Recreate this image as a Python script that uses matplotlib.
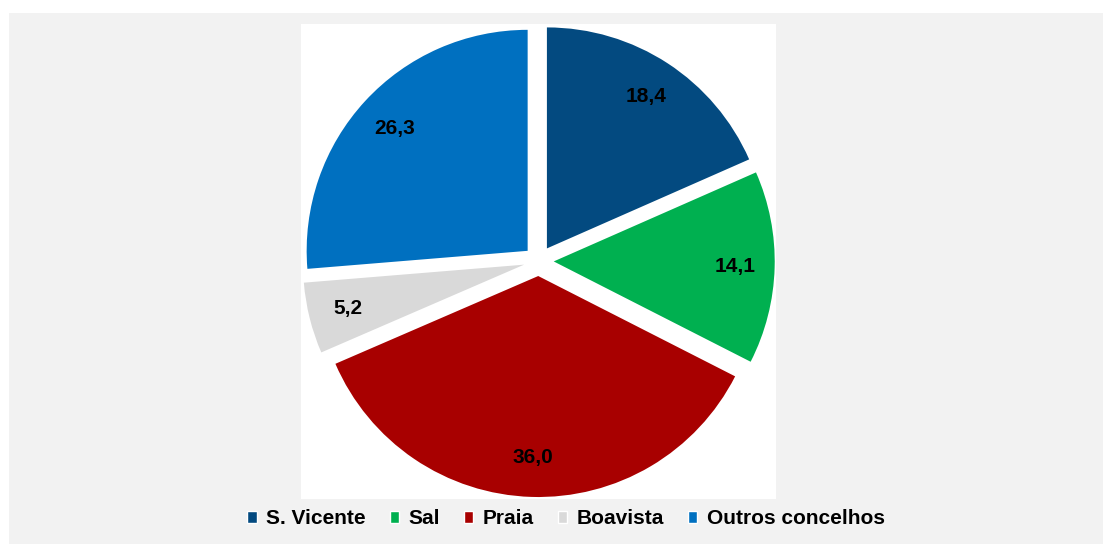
import numpy as np
import matplotlib.pyplot as plt
from matplotlib.patches import Rectangle, Patch

plt.rcParams['font.family'] = ['Liberation Sans', 'DejaVu Sans']

# Dados (percentagens)
concelhos = ["S. Vicente", "Sal", "Praia", "Boavista", "Outros concelhos"]
valores = [18.4, 14.1, 36.0, 5.2, 26.3]
cores = ["#034a80", "#00b050", "#a80000", "#d9d9d9", "#0070c0"]

fig = plt.figure(figsize=(11.03, 5.44), dpi=100)
fig.patch.set_facecolor("white")
# fundo cinzento do gráfico
fig.add_artist(Rectangle((9 / 1103, 0), 1, 1 - 13 / 544, transform=fig.transFigure,
                         facecolor="#f2f2f2", edgecolor="none", zorder=0))

ax = fig.add_axes([301 / 1103, 1 - 499 / 544, 475 / 1103, 475 / 544])

etiquetas = [f"{v:.1f}".replace(".", ",") for v in valores]
wedges, _ = ax.pie(valores, colors=cores, startangle=90, counterclock=False,
                   explode=[0.068] * len(valores), wedgeprops=dict(linewidth=0),
                   frame=True)
ax.set_facecolor("white")

for w, txt in zip(wedges, etiquetas):
    ang = np.deg2rad((w.theta1 + w.theta2) / 2)
    cx, cy = w.center
    ax.text(cx + 0.82 * np.cos(ang), cy + 0.82 * np.sin(ang), txt,
            ha="center", va="center", fontsize=15, fontweight="bold", color="black")

ax.set_aspect("equal")
ax.set_xlim(-1.0756, 1.0738)
ax.set_ylim(-1.0769, 1.0724)
ax.set_xticks([])
ax.set_yticks([])
for s in ax.spines.values():
    s.set_visible(False)

handles = [Patch(facecolor=c, edgecolor="white", linewidth=1) for c in cores]
fig.legend(handles, concelhos, loc="center", bbox_to_anchor=(566 / 1103, 1 - 519 / 544),
           ncol=5, frameon=False, handlelength=0.45, handleheight=0.45,
           handletextpad=0.45, columnspacing=1.15,
           prop=dict(size=15, weight="bold"))

fig.savefig("out.png", dpi=100, facecolor=fig.get_facecolor())
